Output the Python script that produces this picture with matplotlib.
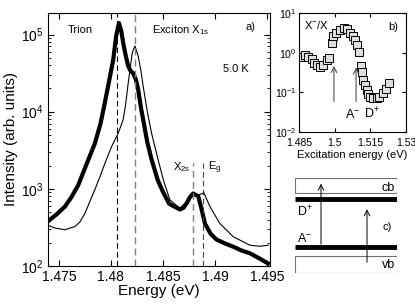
import matplotlib
matplotlib.use("Agg")
import matplotlib.pyplot as plt

plt.rcParams['font.family'] = ['Liberation Sans', 'DejaVu Sans']
plt.rcParams['mathtext.fontset'] = 'custom'
plt.rcParams['mathtext.rm'] = 'Liberation Sans'
plt.rcParams['mathtext.it'] = 'Liberation Sans:italic'
plt.rcParams['mathtext.default'] = 'regular'

# ---- panel a data ----
thick_E = [1.4739, 1.4748, 1.47558, 1.4762, 1.47686, 1.4776, 1.47846, 1.4790, 1.47942, 1.4798,
           1.48022, 1.4805, 1.48077, 1.4810, 1.48118, 1.4814, 1.48166, 1.4819, 1.48214, 1.4824,
           1.48262, 1.4829, 1.4831, 1.4835, 1.48391, 1.4845, 1.48503, 1.4856, 1.48663, 1.4870,
           1.48728, 1.4876, 1.48791, 1.4884, 1.4887, 1.48904, 1.4896, 1.49016, 1.4910, 1.49176,
           1.4925, 1.49337, 1.4943, 1.4951]
thick_I = [376, 470, 590, 780, 1120, 2000, 3900, 7000, 13200, 24000,
           47000, 95000, 141000, 110000, 78000, 55000, 39000, 33500, 31600, 26000,
           19500, 11000, 7900, 4000, 2400, 1300, 900, 640, 540, 570,
           650, 780, 870, 800, 560, 355, 260, 220, 195, 178,
           160, 146, 125, 108]

thin_E = [1.4739, 1.47462, 1.47558, 1.47654, 1.4770, 1.4775, 1.4780, 1.47846, 1.4790, 1.47942,
          1.48007, 1.4807, 1.48118, 1.4814, 1.48166, 1.48205, 1.48231, 1.48262, 1.4829, 1.4831,
          1.4835, 1.48391, 1.4845, 1.48503, 1.48567, 1.48663, 1.48728, 1.48791, 1.4884, 1.48894,
          1.48952, 1.49048, 1.49176, 1.49337, 1.4943, 1.49513]
thin_I = [340, 310, 295, 325, 370, 480, 700, 980, 1500, 2140,
          3550, 5250, 7900, 12000, 23400, 57500, 71000, 52500, 33000, 21400,
          10000, 5250, 2500, 1320, 720, 560, 680, 870, 830, 890,
          590, 355, 240, 186, 180, 186]

E_trion = 1.4806
E_x1s = 1.48235
E_x2s = 1.4879
E_g = 1.4889

main_xticks = [1.475, 1.48, 1.485, 1.49, 1.495]
main_xticklabels = ['1.475', '1.48', '1.485', '1.49', '1.495']

# ---- panel b data ----
b_E = [1.4861, 1.4875, 1.4889, 1.4903, 1.4913, 1.4924, 1.4938, 1.4952, 1.4966, 1.4977,
       1.4988, 1.4994, 1.5006, 1.5022, 1.5039, 1.5053, 1.5064, 1.5076, 1.5086, 1.5095,
       1.5102, 1.5109, 1.5114, 1.5121, 1.5128, 1.5135, 1.5142, 1.5149, 1.5163, 1.5177,
       1.5188, 1.5202, 1.5216, 1.5227]
b_R = [0.76, 0.87, 0.79, 0.68, 0.56, 0.49, 0.44, 0.49, 0.66, 0.72,
       1.73, 2.6, 3.2, 3.7, 4.1, 3.9, 3.2, 2.6, 2.1, 1.56,
       1.06, 0.45, 0.33, 0.21, 0.155, 0.115, 0.091, 0.075, 0.07, 0.07,
       0.075, 0.095, 0.12, 0.17]
E_A = 1.4997
E_D = 1.5090
b_xticks = [1.485, 1.5, 1.515, 1.53]
b_xticklabels = ['1.485', '1.5', '1.515', '1.53']

W, H = 415, 305
fig = plt.figure(figsize=(W / 100, H / 100), dpi=100)

def pos(l, t, r, b):
    return [l / W, (H - b) / H, (r - l) / W, (b - t) / H]

# ---------- panel a ----------
ax = fig.add_axes(pos(47.5, 13, 270, 266))
ax.plot(thin_E, thin_I, color='black', lw=0.8)
ax.plot(thick_E, thick_I, color='black', lw=3.0, solid_joinstyle='round')
ax.axvline(E_trion, color='black', lw=0.8, ls=(0, (5, 3)))
ax.axvline(E_x1s, color='#808080', lw=1.0, ls=(0, (5, 3)))
ax.axvline(E_x2s, ymax=0.407, color='#808080', lw=1.0, ls=(0, (5, 3)))
ax.axvline(E_g, ymax=0.407, color='#404040', lw=0.8, ls=(0, (5, 3)))
ax.set_yscale('log')
ax.set_xlim(1.4739, 1.4953)
ax.set_ylim(100, 1.9e5)
ax.set_xticks(main_xticks)
ax.set_xticklabels(main_xticklabels)
ax.tick_params(which='both', direction='in', top=True, right=True, labelsize=10)
ax.tick_params(which='major', length=4, pad=3)
ax.tick_params(which='minor', length=2)
ax.set_xlabel('Energy (eV)', fontsize=11, labelpad=0)
ax.set_ylabel('Intensity (arb. units)', fontsize=11, labelpad=2)
ax.text(0.092, 0.933, 'Trion', transform=ax.transAxes, fontsize=8, va='center')
ax.text(0.47, 0.933, r'Exciton X$_{1s}$', transform=ax.transAxes, fontsize=8, va='center')
ax.text(0.89, 0.945, 'a)', transform=ax.transAxes, fontsize=8, va='center')
ax.text(0.79, 0.78, '5.0 K', transform=ax.transAxes, fontsize=8, va='center')
ax.text(0.565, 0.39, r'X$_{2s}$', transform=ax.transAxes, fontsize=8, va='center')
ax.text(0.72, 0.39, r'E$_g$', transform=ax.transAxes, fontsize=8, va='center')

# ---------- panel b ----------
bx = fig.add_axes(pos(299, 13, 406, 132))
bx.set_yscale('log')
bx.annotate('', xy=(E_A, 0.55), xytext=(E_A, 0.05),
            arrowprops=dict(arrowstyle='->', color='#505050', lw=0.8))
bx.annotate('', xy=(E_D, 0.5), xytext=(E_D, 0.05),
            arrowprops=dict(arrowstyle='->', color='#505050', lw=0.8))
bx.plot(b_E, b_R, ls='none', marker='s', ms=5.5, mfc='#dddddd', mec='black', mew=0.7)
bx.set_xlim(1.485, 1.53)
bx.set_ylim(0.01, 10)
bx.set_xticks(b_xticks)
bx.set_xticklabels(b_xticklabels)
bx.tick_params(which='both', direction='in', top=True, right=True, labelsize=7.5)
bx.tick_params(which='major', length=3, pad=2)
bx.tick_params(axis='x', which='major', pad=4)
bx.tick_params(which='minor', length=0)
bx.set_xlabel('Excitation energy (eV)', fontsize=8, labelpad=2)
bx.text(0.05, 0.9, r'X$^{-}$/X', transform=bx.transAxes, fontsize=8, va='center')
bx.text(0.83, 0.88, 'b)', transform=bx.transAxes, fontsize=8, va='center')
bx.text(0.43, 0.15, r'A$^{-}$', transform=bx.transAxes, fontsize=9, va='center')
bx.text(0.61, 0.15, r'D$^{+}$', transform=bx.transAxes, fontsize=9, va='center')

# ---------- panel c ----------
cx = fig.add_axes(pos(295, 178, 397, 273))
cx.set_xlim(0, 1)
cx.set_ylim(0, 1)
cx.axis('off')
cx.add_patch(plt.Rectangle((0, 0.842), 1, 0.158, fill=False, ec='#707070', lw=0.8))
cx.add_patch(plt.Rectangle((0, 0.0), 1, 0.179, fill=False, ec='#707070', lw=0.8))
cx.plot([0, 1], [0.779, 0.779], color='black', lw=3.5, solid_capstyle='butt')
cx.plot([0, 1], [0.274, 0.274], color='black', lw=3.5, solid_capstyle='butt')
cx.annotate('', xy=(0.255, 0.97), xytext=(0.255, 0.274),
            arrowprops=dict(arrowstyle='->', color='black', lw=0.7))
cx.annotate('', xy=(0.706, 0.70), xytext=(0.706, 0.084),
            arrowprops=dict(arrowstyle='->', color='black', lw=0.7))
cx.text(0.98, 0.89, 'cb', ha='right', va='center', fontsize=9)
cx.text(0.98, 0.08, 'vb', ha='right', va='center', fontsize=9)
cx.text(0.02, 0.64, r'D$^{+}$', ha='left', va='center', fontsize=9)
cx.text(0.02, 0.36, r'A$^{-}$', ha='left', va='center', fontsize=9)
cx.text(0.86, 0.48, 'c)', ha='left', va='center', fontsize=8)

fig.savefig('out.png', dpi=100)
